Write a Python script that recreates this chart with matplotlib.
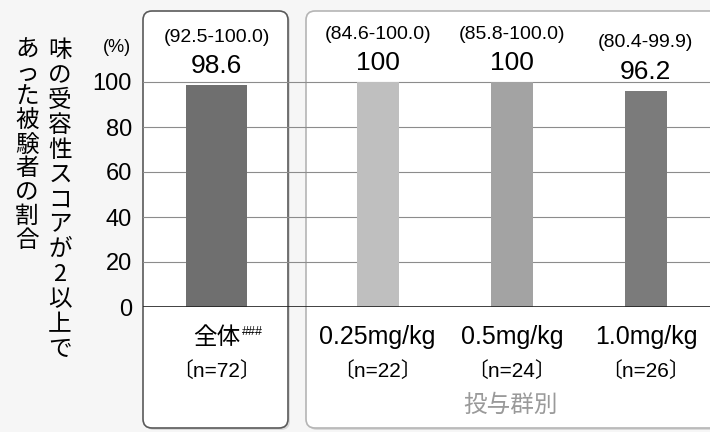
import matplotlib
matplotlib.use("Agg")
import matplotlib.pyplot as plt
from matplotlib.patches import FancyBboxPatch
from matplotlib.transforms import IdentityTransform

# data
categories = ["全体", "0.25mg/kg", "0.5mg/kg", "1.0mg/kg"]
n_labels = ["〔n=72〕", "〔n=22〕", "〔n=24〕", "〔n=26〕"]
rates = [98.6, 100, 100, 96.2]
ci_low = [92.5, 84.6, 85.8, 80.4]
ci_high = [100.0, 100.0, 100.0, 99.9]
yticks = [0, 20, 40, 60, 80, 100]
ylabel_cols = ["味の受容性スコアが2以上で", "あった被験者の割合"]
group_label = "投与群別"
overall_mark = "###"

bar_colors = ["#6f6f6f", "#bfbfbf", "#a3a3a3", "#7b7b7b"]

plt.rcParams["font.family"] = ["Liberation Sans", "Noto Sans CJK JP", "DejaVu Sans"]

W, H = 710, 432
fig = plt.figure(figsize=(W / 100, H / 100), dpi=100, facecolor="#f6f6f6")


def px(x, y):
    """image pixel (top-left origin) -> figure fraction"""
    return x / W, 1 - y / H


def panel(x0, y0, x1, y1, ec):
    shadow = FancyBboxPatch((x0 + 2, H - y1 - 2), x1 - x0, y1 - y0,
                            boxstyle="round,pad=0,rounding_size=9",
                            transform=IdentityTransform(), fc="#d9d9d9", ec="none", zorder=-3)
    body = FancyBboxPatch((x0, H - y1), x1 - x0, y1 - y0,
                          boxstyle="round,pad=0,rounding_size=9",
                          transform=IdentityTransform(), fc="white", ec=ec, lw=1.2, zorder=-2)
    fig.add_artist(shadow)
    fig.add_artist(body)


panel(143, 11, 288, 428, "#5a5a5a")
panel(306, 11, 730, 428, "#b5b5b5")

# axes: y=0 at px 307, 2.25 px per unit
ytop = 100.5
ax = fig.add_axes([143 / W, (H - 307) / H, (W - 143) / W, 2.25 * ytop / H])
ax.set_facecolor("none")

xpos = [0, 1.2, 2.2, 3.2]
widths = [0.455, 0.313, 0.313, 0.313]
ax.bar(xpos, rates, width=widths, color=bar_colors, zorder=2)
ax.set_xlim(-0.5485, 3.6776)
ax.set_ylim(0, ytop)
ax.set_yticks(yticks)
ax.set_axisbelow(True)
ax.grid(axis="y", color="#8c8c8c", lw=0.8)
ax.axhline(0, color="#222222", lw=1.2, zorder=3)
for s in ax.spines.values():
    s.set_visible(False)
ax.tick_params(axis="y", length=0, pad=8, labelsize=17)
ax.tick_params(axis="x", length=0, labelbottom=False)

for x, v, lo, hi in zip(xpos, rates, ci_low, ci_high):
    ax.annotate(f"{v:g}", (x, v), xytext=(0, 8.6), textcoords="offset points",
                ha="center", va="baseline", fontsize=19, annotation_clip=False)
    ax.annotate(f"({lo:.1f}-{hi:.1f})", (x, v), xytext=(0, 31.3), textcoords="offset points",
                ha="center", va="baseline", fontsize=14, annotation_clip=False)

# category labels below the axis
xt = ax.get_xaxis_transform()
for x, cat, n in zip(xpos, categories, n_labels):
    ax.text(x, -(344 - 307) / 225, cat, transform=xt, ha="center", va="baseline",
            fontsize=17 if x == 0 else 18, clip_on=False)
    ax.text(x, -(377 - 307) / 225, n, transform=xt, ha="center", va="baseline",
            fontsize=15, clip_on=False)
fig.text(*px(242, 335), overall_mark, fontsize=9, ha="left", va="baseline")
fig.text(*px(511, 412), group_label, fontsize=17, color="#9a9a9a", ha="center", va="baseline")

# unit and vertical y label
fig.text(*px(117, 48), "(%)", fontsize=13, ha="center", va="center")
for cx, col, (top, bottom) in zip([60, 27], ylabel_cols, [(38, 362), (38, 252)]):
    step = (bottom - top) / len(col)
    for i, ch in enumerate(col):
        fig.text(*px(cx, top + step * (i + 0.5)), ch, fontsize=17,
                 family=["Noto Sans CJK JP", "DejaVu Sans"], ha="center", va="center")

fig.savefig("out.png", dpi=100, facecolor=fig.get_facecolor())
